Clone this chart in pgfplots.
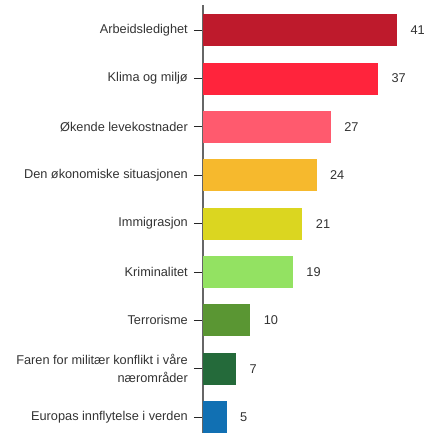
\documentclass[border=0pt]{standalone}
\usepackage{pgfplots}
\pgfplotsset{compat=1.18}
\usepackage{fontspec}
\setmainfont{Liberation Sans}
\definecolor{c1}{HTML}{BE1A2C}
\definecolor{c2}{HTML}{FF243C}
\definecolor{c3}{HTML}{FF5A6E}
\definecolor{c4}{HTML}{F6B92D}
\definecolor{c5}{HTML}{DBD620}
\definecolor{c6}{HTML}{93E262}
\definecolor{c7}{HTML}{5A9633}
\definecolor{c8}{HTML}{246A3A}
\definecolor{c9}{HTML}{1170B3}
\definecolor{txt}{HTML}{333333}
\newcommand{\lblfont}{\fontsize{12.8}{18}\selectfont}
\begin{document}
\begin{tikzpicture}
\begin{axis}[
  at={(0,0)}, anchor=south west,
  scale only axis, width=213bp, height=428bp,
  xbar, bar width=32bp, bar shift=0pt,
  xmin=0, xmax=45, ymin=-0.52, ymax=8.33, y dir=reverse,
  axis x line=none, axis y line*=left,
  y axis line style={draw=black!60, line width=1.2bp, -},
  ytick={0,...,8},
  yticklabels={Arbeidsledighet,Klima og miljø,Økende levekostnader,Den økonomiske situasjonen,Immigrasjon,Kriminalitet,Terrorisme,{Faren for militær konflikt i våre\\nærområder},Europas innflytelse i verden},
  tick align=outside, major tick length=9bp,
  ytick style={draw=black!85, line width=0.8bp},
  yticklabel style={font=\lblfont, text=txt, align=right, inner sep=0pt, xshift=-6bp},
  nodes near coords,
  nodes near coords style={font=\lblfont, text=txt, anchor=west, xshift=10bp},
  /pgf/number format/assume math mode=true,
  every axis plot/.append style={draw=none},
]
\addplot[fill=c1] coordinates {(41,0)};
\addplot[fill=c2] coordinates {(37,1)};
\addplot[fill=c3] coordinates {(27,2)};
\addplot[fill=c4] coordinates {(24,3)};
\addplot[fill=c5] coordinates {(21,4)};
\addplot[fill=c6] coordinates {(19,5)};
\addplot[fill=c7] coordinates {(10,6)};
\addplot[fill=c8] coordinates {(7,7)};
\addplot[fill=c9] coordinates {(5,8)};
\end{axis}
\pgfresetboundingbox
\useasboundingbox (-203bp,0bp) rectangle (225bp,433bp);
\end{tikzpicture}
\end{document}
